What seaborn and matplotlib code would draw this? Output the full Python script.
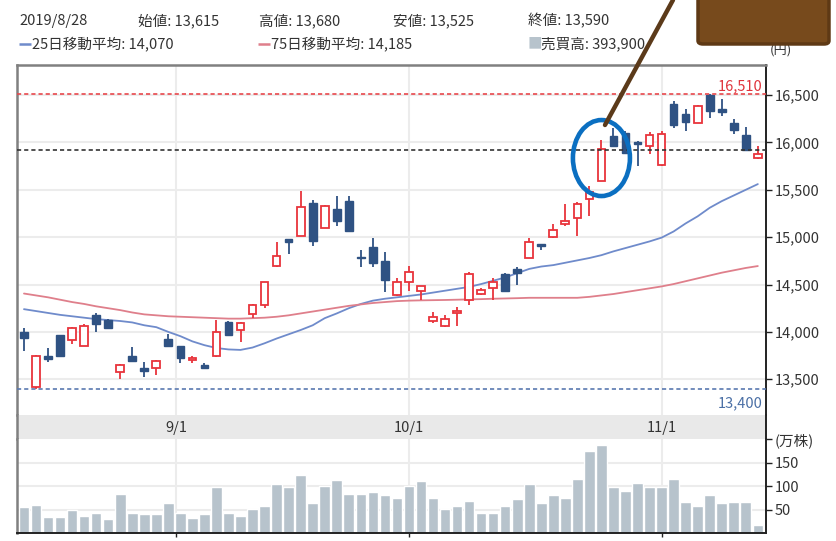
import matplotlib
matplotlib.use("Agg")
import matplotlib.pyplot as plt
import seaborn as sns
import numpy as np
import pandas as pd
from matplotlib.patches import Ellipse, FancyBboxPatch
from matplotlib.lines import Line2D

# ---------------- data ----------------
dates = ["2019-08-14", "2019-08-15", "2019-08-16", "2019-08-19", "2019-08-20", "2019-08-21",
         "2019-08-22", "2019-08-23", "2019-08-26", "2019-08-27", "2019-08-28", "2019-08-29",
         "2019-08-30", "2019-09-02", "2019-09-03", "2019-09-04", "2019-09-05", "2019-09-06",
         "2019-09-09", "2019-09-10", "2019-09-11", "2019-09-12", "2019-09-13", "2019-09-17",
         "2019-09-18", "2019-09-19", "2019-09-20", "2019-09-24", "2019-09-25", "2019-09-26",
         "2019-09-27", "2019-09-30", "2019-10-01", "2019-10-02", "2019-10-03", "2019-10-04",
         "2019-10-07", "2019-10-08", "2019-10-09", "2019-10-10", "2019-10-11", "2019-10-15",
         "2019-10-16", "2019-10-17", "2019-10-18", "2019-10-21", "2019-10-23", "2019-10-24",
         "2019-10-25", "2019-10-28", "2019-10-29", "2019-10-30", "2019-10-31", "2019-11-01",
         "2019-11-05", "2019-11-06", "2019-11-07", "2019-11-08", "2019-11-11", "2019-11-12",
         "2019-11-13", "2019-11-14"]

open_ = [14000, 13420, 13750, 13965, 13915, 13855, 14180, 14125, 13575, 13750,
         13615, 13615, 13930, 13850, 13700, 13650, 13745, 14100, 14015, 14190,
         14285, 14700, 14980, 15015, 15360, 15100, 15300, 15385, 14780, 14895,
         14750, 14390, 14525, 14435, 14110, 14065, 14200, 14340, 14405, 14460,
         14610, 14660, 14780, 14920, 15000, 15140, 15200, 15400, 15595, 16065,
         16095, 16000, 15960, 15760, 16405, 16305, 16205, 16500, 16350, 16205,
         16080, 15840]
high = [14045, 13755, 13835, 13970, 14055, 14080, 14200, 14135, 13660, 13840,
        13680, 13700, 13975, 13855, 13745, 13670, 14125, 14110, 14100, 14290,
        14530, 14950, 14985, 15490, 15390, 15335, 15435, 15435, 14865, 14995,
        14840, 14565, 14695, 14480, 14215, 14180, 14265, 14630, 14460, 14565,
        14620, 14690, 14990, 14925, 15135, 15350, 15370, 15540, 16025, 16150,
        16120, 16010, 16105, 16120, 16440, 16350, 16395, 16510, 16455, 16245,
        16165, 15965]
low = [13800, 13400, 13685, 13740, 13870, 13855, 14000, 14035, 13500, 13685,
       13525, 13545, 13845, 13670, 13670, 13605, 13740, 13955, 13895, 14145,
       14250, 14690, 14820, 15010, 14910, 15095, 15120, 15065, 14690, 14690,
       14420, 14380, 14435, 14340, 14090, 14055, 14060, 14280, 14390, 14340,
       14420, 14490, 14775, 14860, 14990, 15120, 15010, 15225, 15590, 15955,
       15885, 15750, 15875, 15755, 16155, 16120, 16200, 16260, 16280, 16085,
       15920, 15830]
close = [13940, 13750, 13715, 13745, 14040, 14065, 14080, 14040, 13650, 13690,
         13590, 13690, 13850, 13720, 13720, 13615, 13995, 13965, 14095, 14285,
         14525, 14805, 14945, 15315, 14960, 15330, 15170, 15070, 14775, 14730,
         14550, 14525, 14635, 14480, 14155, 14135, 14210, 14610, 14440, 14530,
         14430, 14620, 14950, 14905, 15075, 15175, 15350, 15480, 15935, 15960,
         15890, 15985, 16075, 16090, 16185, 16220, 16385, 16335, 16325, 16135,
         15925, 15880]
volume = [55, 60, 35, 35, 49, 37, 43, 29, 84, 43,
          39.39, 40, 63, 43, 31, 40, 98, 43, 37, 52,
          58, 104, 98, 124, 63, 101, 113, 84, 84, 87,
          81, 75, 101, 110, 75, 52, 58, 69, 43, 43,
          58, 72, 104, 63, 81, 75, 115, 174, 187, 98,
          89, 107, 98, 98, 115, 66, 58, 81, 63, 66,
          66, 17]
ma25 = [14240, 14220, 14200, 14180, 14165, 14150, 14135, 14125, 14115, 14100,
        14070, 14050, 14000, 13955, 13900, 13860, 13830, 13815, 13810, 13835,
        13880, 13930, 13975, 14020, 14070, 14145, 14195, 14250, 14295, 14330,
        14350, 14365, 14380, 14395, 14415, 14435, 14455, 14475, 14505, 14540,
        14575, 14620, 14665, 14690, 14705, 14730, 14755, 14780, 14810, 14850,
        14885, 14920, 14955, 14995, 15060, 15145, 15220, 15310, 15380, 15440,
        15500, 15560]
ma75 = [14405, 14385, 14365, 14340, 14315, 14295, 14270, 14250, 14230, 14205,
        14185, 14175, 14165, 14160, 14155, 14150, 14145, 14140, 14140, 14145,
        14150, 14160, 14175, 14195, 14215, 14235, 14255, 14275, 14290, 14305,
        14315, 14325, 14330, 14333, 14335, 14337, 14340, 14343, 14346, 14350,
        14353, 14356, 14360, 14360, 14360, 14360, 14360, 14370, 14385, 14400,
        14420, 14440, 14460, 14480, 14505, 14535, 14565, 14595, 14625, 14650,
        14675, 14695]

month_labels = ["9/1", "10/1", "11/1"]
price_ticks = [13500, 14000, 14500, 15000, 15500, 16000, 16500]
vol_ticks = [50, 100, 150, 200]
vol_tick_labels = ["50", "100", "150", "(万株)"]
max_price = 16510
min_price = 13400
prev_close = 15925

header_date = "2019/8/28"
header_idx = 10

# ---------------- styling ----------------
sns.set_theme(style="white")
plt.rcParams["font.family"] = ["Noto Sans CJK JP", "DejaVu Sans"]

RED = "#e8343c"
BLUE = "#2f5283"
MA25_C = "#6f8bcb"
MA75_C = "#df7f8b"
VOL_C = "#b7c3cc"
GRID_C = "#ececec"
TXT = "#333333"

W, H = 836, 541
fig = plt.figure(figsize=(W / 100, H / 100), dpi=100)


def axes_px(left, top, right, bottom):
    return fig.add_axes([left / W, 1 - bottom / H, (right - left) / W, (bottom - top) / H])


ax = axes_px(17, 65, 766, 415)
axb = axes_px(17, 415, 766, 439)
axv = axes_px(17, 439, 766, 533)

df = pd.DataFrame({"date": pd.to_datetime(dates), "open": open_, "high": high,
                   "low": low, "close": close, "volume": volume,
                   "ma25": ma25, "ma75": ma75})
df["x"] = np.arange(len(df))

# month boundary positions (calendar interpolation between trading days)
def month_pos(label):
    m, d = map(int, label.split("/"))
    t = pd.Timestamp(2019, m, d)
    after = df[df["date"] >= t].iloc[0]
    i = int(after["x"])
    if after["date"] == t:
        return float(i)
    before = df.iloc[i - 1]
    frac = (t - before["date"]).days / (after["date"] - before["date"]).days
    return i - 1 + frac

mpos = [month_pos(l) for l in month_labels]

xlim = (-0.58, 61.68)
for a in (ax, axb, axv):
    a.set_xlim(*xlim)

# ---------------- price panel ----------------
ax.set_ylim(13123, 16817)
for p in price_ticks:
    ax.axhline(p, color=GRID_C, lw=1.5, zorder=0)
for m in mpos:
    ax.axvline(m, color=GRID_C, lw=1.5, zorder=0)

up = df["close"] >= df["open"]
for _, r in df.iterrows():
    c = RED if r["close"] >= r["open"] else BLUE
    ax.vlines(r["x"], r["low"], r["high"], color=c, lw=1.3, zorder=3)

body_w = 0.64
dn = df[~up]
ax.bar(dn["x"], np.maximum((dn["open"] - dn["close"]).values, 18), bottom=dn["close"],
       width=body_w, color=BLUE, edgecolor=BLUE, lw=1.0, zorder=4)
upd = df[up]
ax.bar(upd["x"], np.maximum((upd["close"] - upd["open"]).values, 18), bottom=upd["open"],
       width=body_w, color="white", edgecolor=RED, lw=1.3, zorder=4)

sns.lineplot(data=df, x="x", y="ma25", ax=ax, color=MA25_C, lw=1.3, zorder=2)
sns.lineplot(data=df, x="x", y="ma75", ax=ax, color=MA75_C, lw=1.3, zorder=2)

ax.axhline(max_price, color="#e8474c", lw=1.2, ls=(0, (2.5, 1.8)), zorder=5)
ax.axhline(min_price, color="#5a79b0", lw=1.2, ls=(0, (2.5, 1.8)), zorder=5)
ax.axhline(prev_close, color="#333333", lw=1.2, ls=(0, (2.5, 1.8)), zorder=5)
ax.text(xlim[1] - 0.3, 16595, f"{max_price:,}", color="#e0343c", ha="right", va="center",
        fontsize=10.5)
ax.text(xlim[1] - 0.3, 13250, f"{min_price:,}", color="#4a6fa5", ha="right", va="center",
        fontsize=10.5)

ax.set_xlabel("")
ax.set_ylabel("")
ax.set_xticks([])
ax.yaxis.tick_right()
ax.set_yticks(price_ticks)
ax.set_yticklabels([f"{p:,}" for p in price_ticks], fontsize=10.5, color=TXT)
ax.tick_params(axis="y", right=True, length=4, width=1, color="#222222", pad=2)
for s in ("left", "top"):
    ax.spines[s].set_color("#808080")
    ax.spines[s].set_linewidth(1.8)
ax.spines["right"].set_color("#222222")
ax.spines["right"].set_linewidth(1.4)
ax.spines["bottom"].set_visible(False)

# ---------------- date band ----------------
axb.set_facecolor("#e9e9e9")
axb.set_ylim(0, 1)
axb.set_xticks([])
axb.set_yticks([])
for m, l in zip(mpos, month_labels):
    axb.text(m, 0.45, l, ha="center", va="center", fontsize=10.5, color=TXT)
for s in ("top", "bottom"):
    axb.spines[s].set_visible(False)
axb.spines["left"].set_color("#808080")
axb.spines["left"].set_linewidth(1.8)
axb.spines["right"].set_color("#222222")
axb.spines["right"].set_linewidth(1.4)

# ---------------- volume panel ----------------
axv.set_ylim(0, 200)
for v in vol_ticks[:-1]:
    axv.axhline(v, color=GRID_C, lw=1.5, zorder=0)
for m in mpos:
    axv.axvline(m, color=GRID_C, lw=1.5, zorder=0)
axv.bar(df["x"], df["volume"], width=0.88, color=VOL_C, zorder=2)
axv.yaxis.tick_right()
axv.set_yticks(vol_ticks)
axv.set_yticklabels(vol_tick_labels, fontsize=10.5, color=TXT)
axv.tick_params(axis="y", right=True, length=4, width=1, color="#222222", pad=2)
axv.set_xticks(mpos)
axv.set_xticklabels([])
axv.tick_params(axis="x", bottom=True, length=3, width=1, color="#222222")
axv.spines["top"].set_visible(False)
axv.spines["left"].set_color("#808080")
axv.spines["left"].set_linewidth(1.8)
axv.spines["right"].set_color("#222222")
axv.spines["right"].set_linewidth(1.4)
axv.spines["bottom"].set_color("#222222")
axv.spines["bottom"].set_linewidth(1.4)

# ---------------- header ----------------
r = df.iloc[header_idx]
fs = 10.5
def ftxt(x, y, s, color=TXT):
    fig.text(x / W, 1 - y / H, s, ha="left", va="center", fontsize=fs, color=color)

def fdash(x, y, color):
    fig.add_artist(Line2D([x / W, (x + 12) / W], [1 - y / H, 1 - y / H],
                          color=color, lw=1.8, solid_capstyle="butt"))

ftxt(19, 21, header_date)
ftxt(138, 21, f"始値: {r['open']:,}")
ftxt(259, 21, f"高値: {r['high']:,}")
ftxt(393, 21, f"安値: {r['low']:,}")
ftxt(528, 21, f"終値: {r['close']:,}")
fdash(19, 44, MA25_C)
ftxt(32, 44, f"25日移動平均: {r['ma25']:,}")
fdash(258, 44, MA75_C)
ftxt(271, 44, f"75日移動平均: {r['ma75']:,}")
ftxt(528, 44, "■", color=VOL_C)
ftxt(541, 44, f"売買高: {int(round(r['volume'] * 10000)):,}")
fig.text(781 / W, 1 - 50 / H, "(円)", ha="center", va="center", fontsize=9.5, color=TXT)

# ---------------- annotation ----------------
ell = Ellipse((48.0, 15835), 4.74, 802, fill=False, ec="#0b6fc1", lw=3.3,
              zorder=10, clip_on=False)
ax.add_patch(ell)
fig.add_artist(Line2D([605 / W, 673 / W], [1 - 125 / H, 1 - 0 / H],
                      color="#5b3a1a", lw=3.2, zorder=20))
box = FancyBboxPatch((698 / W, 1 - 44 / H), 131 / W, 60 / H,
                     boxstyle="round,pad=0,rounding_size=0.006",
                     fc="#774a1c", ec="#5e3915", lw=2.5, transform=fig.transFigure,
                     zorder=21)
fig.add_artist(box)

fig.savefig("out.png", dpi=100)
